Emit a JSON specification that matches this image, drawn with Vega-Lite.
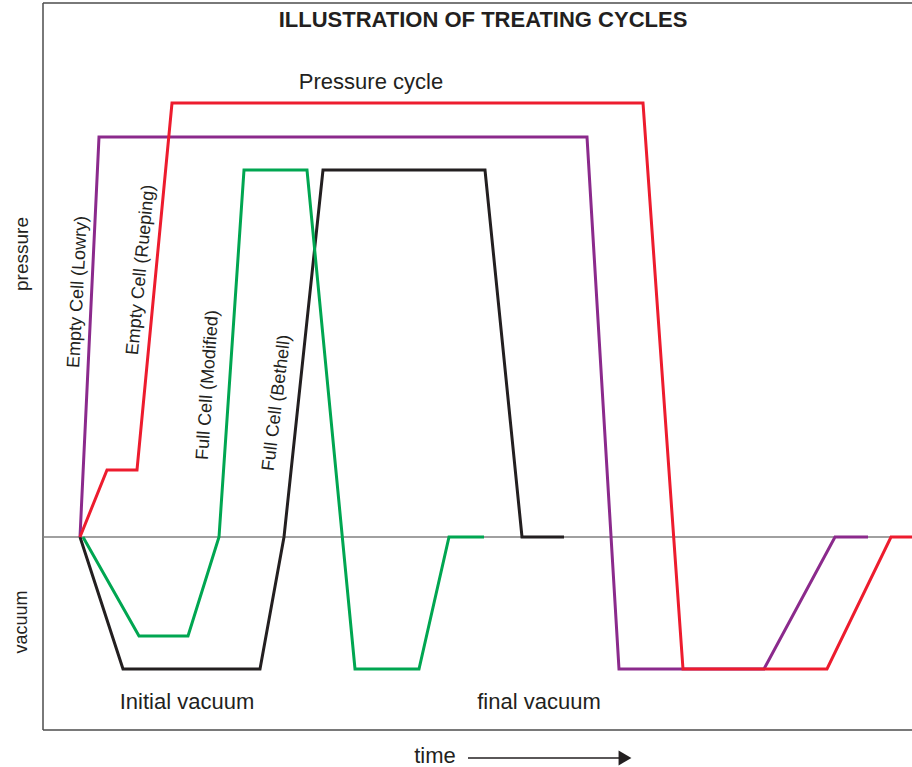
{
  "$schema": "https://vega.github.io/schema/vega-lite/v6.json",
  "width": 869,
  "height": 727,
  "autosize": {"type": "none"},
  "padding": {"left": 43, "top": 3, "right": 0, "bottom": 37},
  "background": "white",
  "config": {"view": {"stroke": null}, "font": "Liberation Sans"},
  "datasets": {
    "cycles": [
      {"series": "Full Cell (Bethell)", "i": 1, "t": 37, "p": 0},
      {"series": "Full Cell (Bethell)", "i": 2, "t": 80, "p": -132},
      {"series": "Full Cell (Bethell)", "i": 3, "t": 217, "p": -132},
      {"series": "Full Cell (Bethell)", "i": 4, "t": 241, "p": 0},
      {"series": "Full Cell (Bethell)", "i": 5, "t": 280, "p": 367},
      {"series": "Full Cell (Bethell)", "i": 6, "t": 442, "p": 367},
      {"series": "Full Cell (Bethell)", "i": 7, "t": 479, "p": 0},
      {"series": "Full Cell (Bethell)", "i": 8, "t": 521, "p": 0},
      {"series": "Full Cell (Modified)", "i": 1, "t": 40, "p": 0},
      {"series": "Full Cell (Modified)", "i": 2, "t": 96, "p": -99},
      {"series": "Full Cell (Modified)", "i": 3, "t": 145, "p": -99},
      {"series": "Full Cell (Modified)", "i": 4, "t": 176, "p": 0},
      {"series": "Full Cell (Modified)", "i": 5, "t": 201, "p": 367},
      {"series": "Full Cell (Modified)", "i": 6, "t": 264, "p": 367},
      {"series": "Full Cell (Modified)", "i": 7, "t": 312, "p": -132},
      {"series": "Full Cell (Modified)", "i": 8, "t": 376, "p": -132},
      {"series": "Full Cell (Modified)", "i": 9, "t": 406, "p": 0},
      {"series": "Full Cell (Modified)", "i": 10, "t": 441, "p": 0},
      {"series": "Empty Cell (Lowry)", "i": 1, "t": 37, "p": 0},
      {"series": "Empty Cell (Lowry)", "i": 2, "t": 56, "p": 400},
      {"series": "Empty Cell (Lowry)", "i": 3, "t": 544, "p": 400},
      {"series": "Empty Cell (Lowry)", "i": 4, "t": 576, "p": -132},
      {"series": "Empty Cell (Lowry)", "i": 5, "t": 721, "p": -132},
      {"series": "Empty Cell (Lowry)", "i": 6, "t": 792, "p": 0},
      {"series": "Empty Cell (Lowry)", "i": 7, "t": 825, "p": 0},
      {"series": "Empty Cell (Rueping)", "i": 1, "t": 37, "p": 0},
      {"series": "Empty Cell (Rueping)", "i": 2, "t": 64, "p": 67},
      {"series": "Empty Cell (Rueping)", "i": 3, "t": 94, "p": 67},
      {"series": "Empty Cell (Rueping)", "i": 4, "t": 129, "p": 434},
      {"series": "Empty Cell (Rueping)", "i": 5, "t": 600, "p": 434},
      {"series": "Empty Cell (Rueping)", "i": 6, "t": 640, "p": -132},
      {"series": "Empty Cell (Rueping)", "i": 7, "t": 784, "p": -132},
      {"series": "Empty Cell (Rueping)", "i": 8, "t": 848, "p": 0},
      {"series": "Empty Cell (Rueping)", "i": 9, "t": 869, "p": 0}
    ],
    "labels": [
      {"label": "Empty Cell (Lowry)", "t": 35, "p": 245},
      {"label": "Empty Cell (Rueping)", "t": 98, "p": 267},
      {"label": "Full Cell (Modified)", "t": 165, "p": 152},
      {"label": "Full Cell (Bethell)", "t": 234, "p": 134},
      {"label": "Pressure cycle", "t": 328, "p": 455},
      {"label": "Initial vacuum", "t": 144, "p": -165},
      {"label": "final vacuum", "t": 496, "p": -165},
      {"label": "time", "t": 392, "p": -219},
      {"label": "pressure", "t": -21, "p": 283},
      {"label": "vacuum", "t": -21, "p": -85},
      {"label": "ILLUSTRATION OF TREATING CYCLES", "t": 440, "p": 517}
    ],
    "arrow": [
      {"t": 425, "t2": 582, "p": -221}
    ],
    "frame": [
      {"top": 534, "bottom": -193, "left": 0, "zero": 0}
    ]
  },
  "layer": [
    {
      "data": {"name": "frame"},
      "mark": {"type": "rule", "color": "#4d4d4d", "strokeWidth": 1.5},
      "encoding": {"y": {"field": "top", "type": "quantitative", "scale": {"domain": [-193, 534], "nice": false, "zero": false}, "axis": null}}
    },
    {
      "data": {"name": "frame"},
      "mark": {"type": "rule", "color": "#4d4d4d", "strokeWidth": 1.5},
      "encoding": {"y": {"field": "bottom", "type": "quantitative"}}
    },
    {
      "data": {"name": "frame"},
      "mark": {"type": "rule", "color": "#4d4d4d", "strokeWidth": 1.5},
      "encoding": {"x": {"field": "left", "type": "quantitative", "scale": {"domain": [0, 869], "nice": false, "zero": false}, "axis": null}}
    },
    {
      "data": {"name": "frame"},
      "mark": {"type": "rule", "color": "#808080", "strokeWidth": 1.3},
      "encoding": {"y": {"field": "zero", "type": "quantitative"}}
    },
    {
      "data": {"name": "cycles"},
      "mark": {"type": "line", "strokeWidth": 3, "strokeJoin": "miter"},
      "encoding": {
        "x": {"field": "t", "type": "quantitative"},
        "y": {"field": "p", "type": "quantitative"},
        "color": {
          "field": "series",
          "type": "nominal",
          "scale": {
            "domain": ["Full Cell (Bethell)", "Full Cell (Modified)", "Empty Cell (Lowry)", "Empty Cell (Rueping)"],
            "range": ["#231f20", "#00a651", "#8b2a8c", "#ed1c2e"]
          },
          "legend": null
        },
        "order": {"field": "i", "type": "quantitative"}
      }
    },
    {
      "data": {"name": "labels"},
      "transform": [{"filter": "datum.label == 'Empty Cell (Lowry)'"}],
      "mark": {"type": "text", "angle": -87, "fontSize": 18, "color": "#231f20", "baseline": "middle", "align": "center"},
      "encoding": {"x": {"field": "t", "type": "quantitative"}, "y": {"field": "p", "type": "quantitative"}, "text": {"field": "label"}}
    },
    {
      "data": {"name": "labels"},
      "transform": [{"filter": "datum.label == 'Empty Cell (Rueping)'"}],
      "mark": {"type": "text", "angle": -84.5, "fontSize": 18, "color": "#231f20", "baseline": "middle", "align": "center"},
      "encoding": {"x": {"field": "t", "type": "quantitative"}, "y": {"field": "p", "type": "quantitative"}, "text": {"field": "label"}}
    },
    {
      "data": {"name": "labels"},
      "transform": [{"filter": "datum.label == 'Full Cell (Modified)'"}],
      "mark": {"type": "text", "angle": -86, "fontSize": 18, "color": "#231f20", "baseline": "middle", "align": "center"},
      "encoding": {"x": {"field": "t", "type": "quantitative"}, "y": {"field": "p", "type": "quantitative"}, "text": {"field": "label"}}
    },
    {
      "data": {"name": "labels"},
      "transform": [{"filter": "datum.label == 'Full Cell (Bethell)'"}],
      "mark": {"type": "text", "angle": -83, "fontSize": 18, "color": "#231f20", "baseline": "middle", "align": "center"},
      "encoding": {"x": {"field": "t", "type": "quantitative"}, "y": {"field": "p", "type": "quantitative"}, "text": {"field": "label"}}
    },
    {
      "data": {"name": "labels"},
      "transform": [{"filter": "datum.label == 'pressure'"}],
      "mark": {"type": "text", "angle": -90, "fontSize": 19, "color": "#231f20", "baseline": "middle", "align": "center"},
      "encoding": {"x": {"field": "t", "type": "quantitative"}, "y": {"field": "p", "type": "quantitative"}, "text": {"field": "label"}}
    },
    {
      "data": {"name": "labels"},
      "transform": [{"filter": "datum.label == 'vacuum'"}],
      "mark": {"type": "text", "angle": -90, "fontSize": 18, "color": "#231f20", "baseline": "middle", "align": "center"},
      "encoding": {"x": {"field": "t", "type": "quantitative"}, "y": {"field": "p", "type": "quantitative"}, "text": {"field": "label"}}
    },
    {
      "data": {"name": "labels"},
      "transform": [{"filter": "indexof(['Pressure cycle', 'Initial vacuum', 'final vacuum', 'time'], datum.label) >= 0"}],
      "mark": {"type": "text", "fontSize": 22, "color": "#231f20", "baseline": "middle", "align": "center"},
      "encoding": {"x": {"field": "t", "type": "quantitative"}, "y": {"field": "p", "type": "quantitative"}, "text": {"field": "label"}}
    },
    {
      "data": {"name": "labels"},
      "transform": [{"filter": "datum.label == 'ILLUSTRATION OF TREATING CYCLES'"}],
      "mark": {"type": "text", "fontSize": 22, "fontWeight": "bold", "color": "#231f20", "baseline": "middle", "align": "center"},
      "encoding": {"x": {"field": "t", "type": "quantitative"}, "y": {"field": "p", "type": "quantitative"}, "text": {"field": "label"}}
    },
    {
      "data": {"name": "arrow"},
      "mark": {"type": "rule", "color": "#231f20", "strokeWidth": 1.3},
      "encoding": {"x": {"field": "t", "type": "quantitative"}, "x2": {"field": "t2"}, "y": {"field": "p", "type": "quantitative"}}
    },
    {
      "data": {"name": "arrow"},
      "mark": {"type": "point", "shape": "triangle-right", "filled": true, "color": "#231f20", "size": 220, "opacity": 1},
      "encoding": {"x": {"field": "t2", "type": "quantitative"}, "y": {"field": "p", "type": "quantitative"}}
    }
  ]
}
